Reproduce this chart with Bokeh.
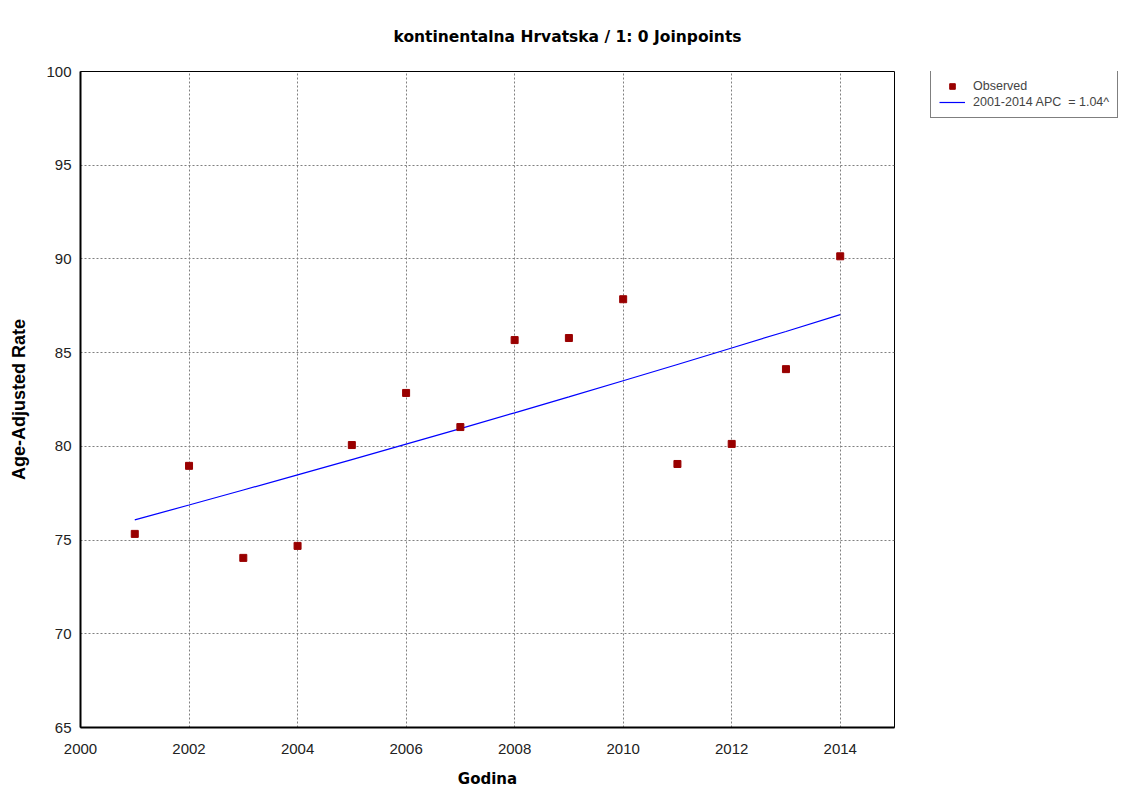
from bokeh.plotting import figure
from bokeh.models import Legend, LegendItem, FixedTicker, Range1d
from bokeh.layouts import row
from bokeh.embed import file_html
from bokeh.resources import INLINE

years = [2001, 2002, 2003, 2004, 2005, 2006, 2007, 2008, 2009, 2010, 2011, 2012, 2013, 2014]
observed = [75.33, 78.96, 74.05, 74.69, 80.07, 82.85, 81.03, 85.67, 85.78, 87.85, 79.06, 80.13, 84.12, 90.14]
fitted = [76.08, 76.87, 77.67, 78.48, 79.29, 80.12, 80.95, 81.79, 82.64, 83.50, 84.37, 85.25, 86.13, 87.03]
x_ticks = [2000, 2002, 2004, 2006, 2008, 2010, 2012, 2014]
y_ticks = [65, 70, 75, 80, 85, 90, 95, 100]
title_text = "kontinentalna Hrvatska / 1: 0 Joinpoints"
legend_labels = ["Observed", "2001-2014 APC  = 1.04^"]

H = 791
W1 = 898
W2 = 228
FL, FT, FR, FB = 80, 70, 894, 727

POINT_COLOR = "#990000"
LINE_COLOR = "#0000FF"

p = figure(width=W1, height=H, output_backend="svg", toolbar_location=None,
           x_range=Range1d(2000, 2015), y_range=Range1d(65, 100),
           min_border_left=FL, min_border_right=W1 - FR, min_border_top=FT, min_border_bottom=H - FB)
p.background_fill_color = "white"
p.border_fill_color = "white"
p.outline_line_color = "black"
p.outline_line_width = 1

p.title.text = title_text
p.title.text_font = "DejaVu Sans"
p.title.text_font_style = "bold"
p.title.text_font_size = "15.5px"
p.title.text_color = "black"
p.title.align = "left"
p.title.vertical_align = "bottom"
p.title.offset = 313
try:
    p.title.standoff = 51
except Exception:
    pass

for ax in (p.xaxis[0], p.yaxis[0]):
    ax.major_tick_line_color = None
    ax.minor_tick_line_color = None
    ax.axis_line_color = "black"
    ax.axis_line_width = 2
    ax.major_label_text_font = "Liberation Sans"
    ax.major_label_text_font_size = "15px"
    ax.major_label_text_color = "#222222"
    ax.axis_label_text_font_style = "bold"
    ax.axis_label_text_color = "black"

p.xaxis[0].ticker = FixedTicker(ticks=x_ticks)
p.yaxis[0].ticker = FixedTicker(ticks=y_ticks)
p.xaxis[0].axis_label = "Godina"
p.xaxis[0].axis_label_text_font = "DejaVu Sans"
p.xaxis[0].axis_label_text_font_size = "15px"
p.xaxis[0].major_label_standoff = 10
p.xaxis[0].axis_label_standoff = 13
p.yaxis[0].axis_label = "Age-Adjusted Rate"
p.yaxis[0].axis_label_text_font = "Liberation Sans"
p.yaxis[0].axis_label_text_font_size = "18px"
p.yaxis[0].major_label_standoff = 3
p.yaxis[0].axis_label_standoff = 14

p.grid.grid_line_color = "#808080"
p.grid.grid_line_dash = "2 2"
p.grid.grid_line_width = 1

p.line(years, fitted, line_color=LINE_COLOR, line_width=1.2)
p.scatter(years, observed, marker="square", size=7, fill_color=POINT_COLOR, line_color=POINT_COLOR)

# legend panel to the right of the chart (its own renderers lie outside its view)
p2 = figure(width=W2, height=H, output_backend="svg", toolbar_location=None,
            x_range=Range1d(0, 1), y_range=Range1d(0, 1),
            min_border=0, x_axis_location=None, y_axis_location=None)
p2.outline_line_color = None
p2.grid.visible = False
p2.background_fill_color = "white"
p2.border_fill_color = "white"
lg_pts = p2.scatter(years, observed, marker="square", size=7, fill_color=POINT_COLOR, line_color=POINT_COLOR)
lg_line = p2.line(years, fitted, line_color=LINE_COLOR, line_width=1.2)

legend = Legend(items=[LegendItem(label=legend_labels[0], renderers=[lg_pts]),
                       LegendItem(label=legend_labels[1], renderers=[lg_line])],
                location=(32, FB - FT - 48), border_line_color="black", border_line_width=1,
                label_text_font="Liberation Sans", label_text_font_size="12.5px",
                glyph_width=26, glyph_height=14, label_height=14, spacing=2,
                padding=8, margin=0, label_standoff=8, background_fill_alpha=1)
p2.add_layout(legend, "center")

layout = row(p, p2)
open("out.html", "w").write(file_html(layout, INLINE))
